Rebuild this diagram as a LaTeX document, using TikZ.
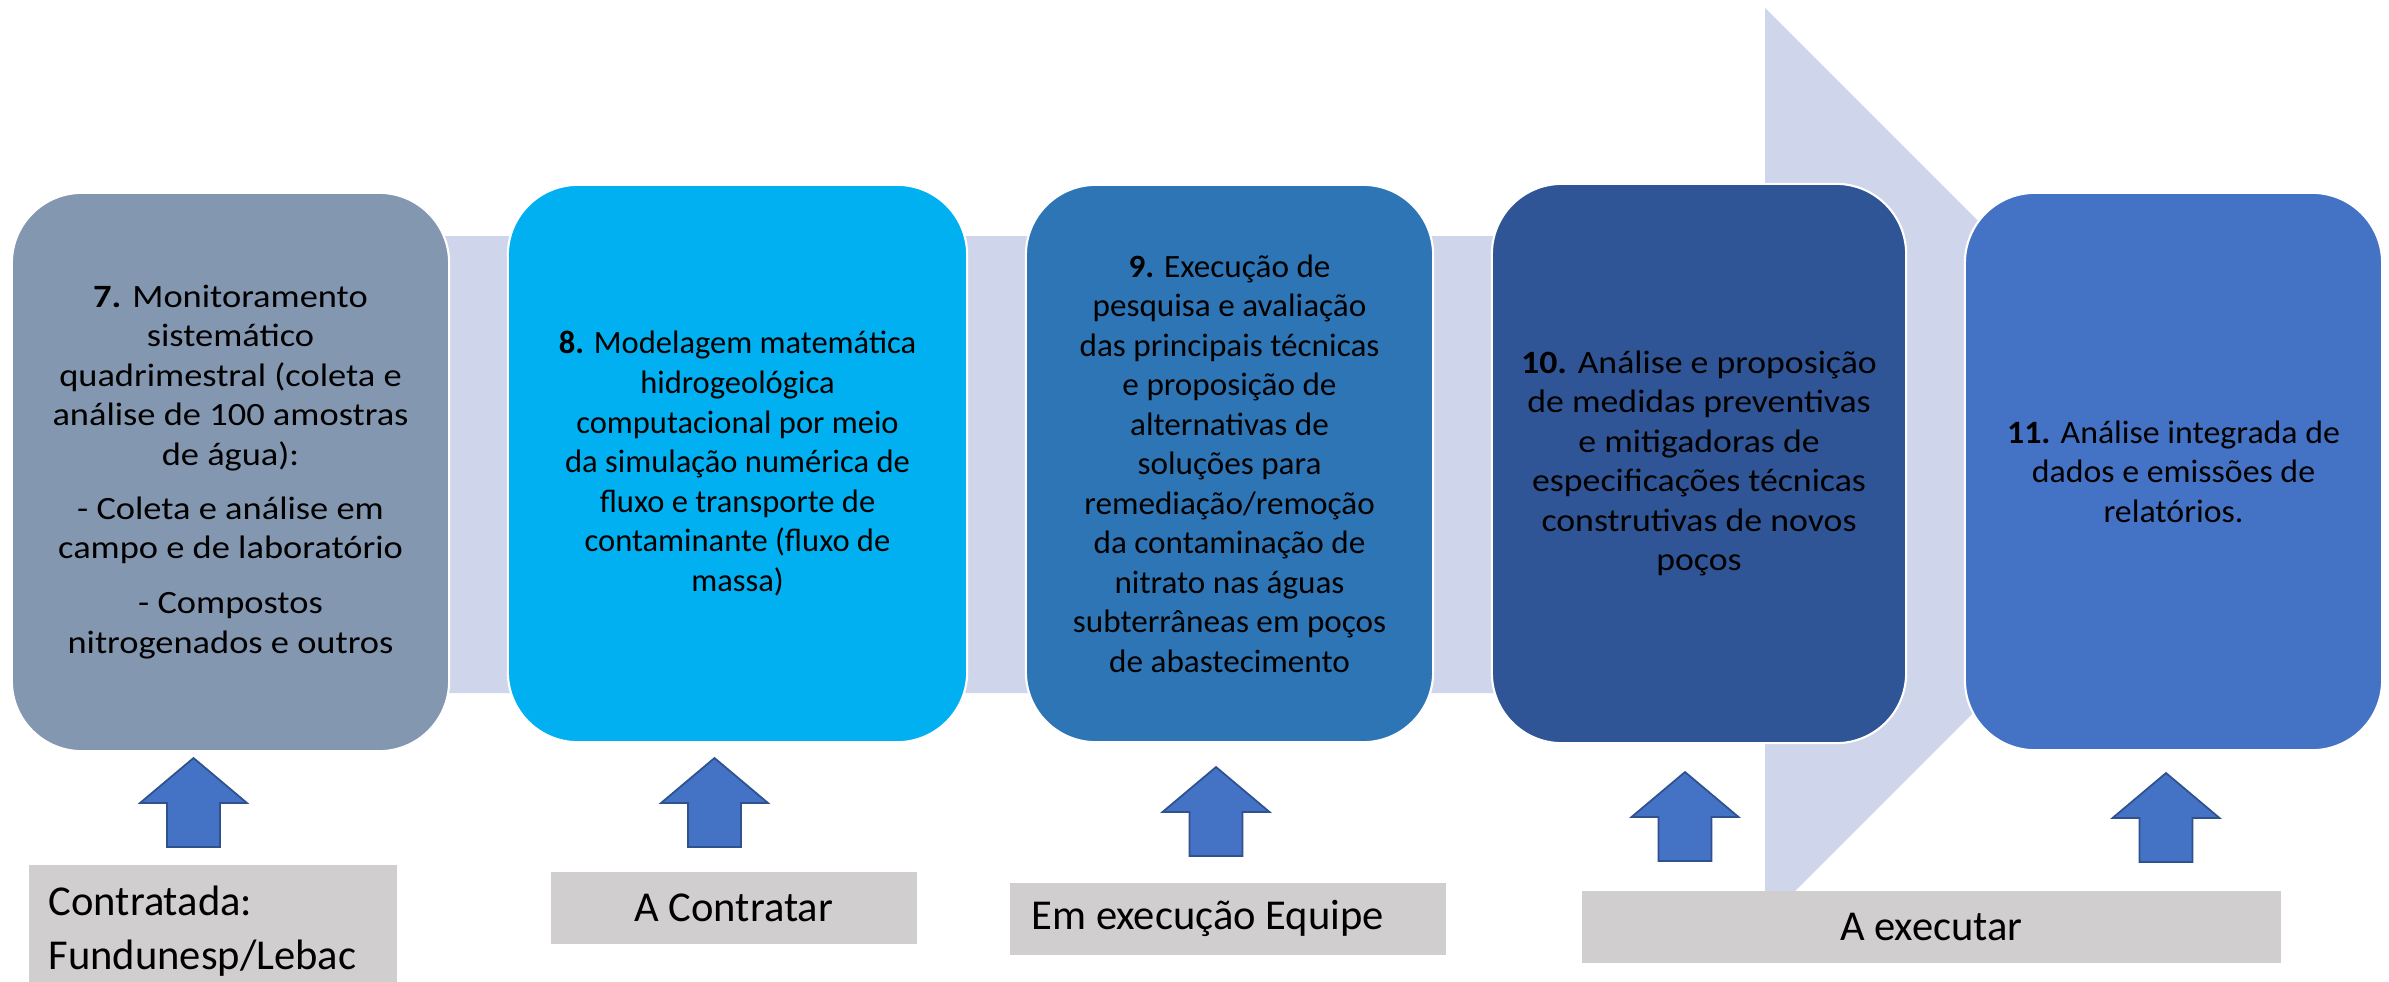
\documentclass[tikz,border=0pt]{standalone}
\usepackage{fontspec}
\setmainfont{Carlito}
\definecolor{cbox7}{HTML}{8497B0}
\definecolor{cbox8}{HTML}{00B0F0}
\definecolor{cbox9}{HTML}{2E75B6}
\definecolor{cbox10}{HTML}{2F5597}
\definecolor{cbox11}{HTML}{4472C4}
\definecolor{cband}{HTML}{CFD5EA}
\definecolor{clabel}{HTML}{D0CECE}
\definecolor{carrow}{HTML}{4472C4}
\definecolor{carrowline}{HTML}{2F528F}
\tikzset{
  stepbox/.style={rectangle, rounded corners=0.7cm, draw=white, line width=0.6pt,
    inner sep=0pt, align=center, text=black, font=\fontsize{9.25}{11.24}\selectfont},
  fstretch/.style={font=\fontsize{9.25}{11.24}\selectfont\addfontfeatures{FakeStretch=#1}},
  lblbox/.style={rectangle, fill=clabel, inner sep=0pt, text=black,
    font=\fontsize{12.1}{15.4}\selectfont},
  blockarrow/.style={fill=carrow, draw=carrowline, line width=0.5pt, line join=miter},
  uparr/.pic={\path[blockarrow] (0,0) -- (53.5,45) -- (26.5,45) -- (26.5,89)
     -- (-26.5,89) -- (-26.5,45) -- (-53.5,45) -- cycle;}
}
\begin{document}
\begin{tikzpicture}[x=0.01cm,y=-0.01cm]
\clip (0,0) rectangle (2389,981);
\fill[white] (0,0) rectangle (2389,981);
% background process arrow
\fill[cband] (100,236) -- (1765,236) -- (1765,8) -- (2221.5,464.5) -- (1765,921)
  -- (1765,693) -- (100,693) -- cycle;
% step boxes
\node[stepbox, fstretch=1.12, fill=cbox7, minimum width=4.37cm, minimum height=5.58cm] (b7) at (230.5,472)
 {\textbf{7.} Monitoramento\\ sistemático\\ quadrimestral (coleta e\\ análise de 100 amostras\\ de água):\\[4pt]
  - Coleta e análise em\\ campo e de laboratório\\[4.5pt] - Compostos\\ nitrogenados e outros};
\node[stepbox, fill=cbox8, minimum width=4.59cm, minimum height=5.57cm] (b8) at (737.5,463.5)
 {\textbf{8.} Modelagem matemática\\ hidrogeológica\\ computacional por meio\\ da simulação numérica de\\ fluxo e transporte de\\ contaminante (fluxo de\\ massa)};
\node[stepbox, fstretch=1.02, fill=cbox9, minimum width=4.07cm, minimum height=5.57cm] (b9) at (1229.5,463.5)
 {\textbf{9.} Execução de\\ pesquisa e avaliação\\ das principais técnicas\\ e proposição de\\ alternativas de\\ soluções para\\ remediação/remoção\\ da contaminação de\\ nitrato nas águas\\ subterrâneas em poços\\ de abastecimento};
\node[stepbox, fstretch=1.1, fill=cbox10, minimum width=4.14cm, minimum height=5.59cm] (b10) at (1699,463.5)
 {\textbf{10.} Análise e proposição\\ de medidas preventivas\\ e mitigadoras de\\ especificações técnicas\\ construtivas de novos\\ poços};
\node[stepbox, fstretch=1.04, fill=cbox11, minimum width=4.17cm, minimum height=5.57cm] (b11) at (2173.5,471.5)
 {\textbf{11.} Análise integrada de\\ dados e emissões de\\ relatórios.};
% status labels
\node[lblbox, minimum width=3.68cm, minimum height=1.32cm, text width=3.28cm, align=left,
  anchor=north west] (l7) at (28,864) {Contratada:\\Fundunesp/Lebac};
\node[lblbox, minimum width=3.66cm, minimum height=0.72cm, anchor=north west] (l8) at (550,871) {A Contratar};
\node[lblbox, minimum width=4.36cm, minimum height=0.72cm, anchor=north west] (l9) at (1009,882)
 {\makebox[3.92cm][l]{Em execução Equipe}};
\node[lblbox, minimum width=6.99cm, minimum height=0.72cm, anchor=north west] (l10) at (1581,890) {A executar};
% up arrows
\coordinate (a7) at (193.5,758);
\coordinate (a8) at (714.5,758);
\coordinate (a9) at (1216,767);
\coordinate (a10) at (1685,772);
\coordinate (a11) at (2166,773);
\foreach \c in {a7,a8,a9,a10,a11} \pic at (\c) {uparr};
\end{tikzpicture}
\end{document}
